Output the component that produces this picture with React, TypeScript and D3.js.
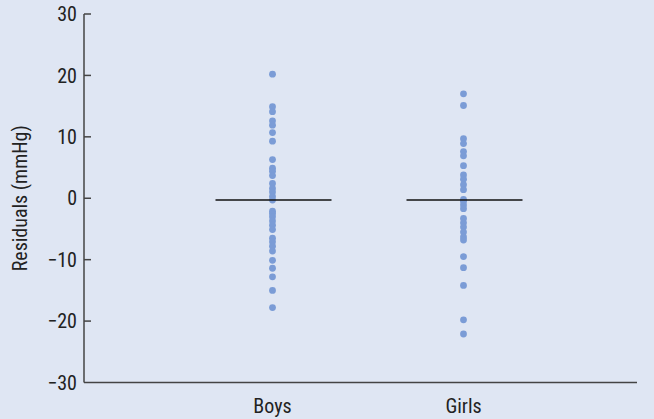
import React from "react";
import * as d3 from "d3";

const categories = ["Boys", "Girls"];
const boys = [20.2, 14.9, 14.1, 12.6, 11.9, 10.7, 9.3, 6.3, 4.9, 4.4, 3.7, 2.4, 1.6, 1.0, 0.3, -0.3, -2.1, -2.5, -3.0, -3.7, -4.4, -5.1, -6.5, -7.1, -7.8, -8.6, -10.1, -11.4, -12.8, -15.0, -17.8];
const girls = [17.0, 15.1, 9.7, 8.9, 7.6, 6.9, 5.3, 3.8, 3.1, 2.2, 1.4, -0.2, -0.5, -1.1, -1.7, -3.3, -4.0, -4.7, -5.5, -6.3, -6.8, -9.5, -11.3, -14.2, -19.8, -22.1];
const means = [-0.3, -0.3];
const yTicks = [-30, -20, -10, 0, 10, 20, 30];
const yLabel = "Residuals (mmHg)";

const W = 654;
const H = 419;
const FONT = "'Liberation Sans Narrow', 'Roboto Condensed', Arial, sans-serif";

export default function App() {
  const y = d3.scaleLinear().domain([-30, 30]).range([382.5, 14]);
  const x = d3.scalePoint<string>().domain(categories).range([272.5, 463.5]);
  const axisX = 84;
  const axisRight = 637;
  const series = [boys, girls];
  const fmt = (v: number) => (v < 0 ? "\u2212" + Math.abs(v) : String(v));

  return (
    <svg width={W} height={H} style={{ position: "absolute", left: 0, top: 0, display: "block" }}>
      <rect x={0} y={0} width={W} height={H} fill="#dfe6f3" />
      {/* y axis */}
      <line x1={axisX} x2={axisX} y1={y(30)} y2={y(-30)} stroke="#444" strokeWidth={1.5} />
      {yTicks.map((t) => (
        <g key={t}>
          {t !== -30 && (
            <line x1={axisX} x2={axisX + 7} y1={y(t)} y2={y(t)} stroke="#444" strokeWidth={1.5} />
          )}
          <text x={axisX - 7} y={y(t)} dy="0.36em" textAnchor="end" fontFamily={FONT} fontSize={20} fill="#222">
            {fmt(t)}
          </text>
        </g>
      ))}
      {/* x axis */}
      <line x1={axisX} x2={axisRight} y1={y(-30)} y2={y(-30)} stroke="#444" strokeWidth={1.5} />
      {categories.map((c) => (
        <text key={c} x={x(c)} y={413} textAnchor="middle" fontFamily={FONT} fontSize={20} fill="#222">
          {c}
        </text>
      ))}
      <text
        transform={`translate(27, ${y(0)}) rotate(-90)`}
        textAnchor="middle"
        fontFamily={FONT}
        fontSize={20}
        fill="#222"
      >
        {yLabel}
      </text>
      {/* dots */}
      {series.map((vals, i) =>
        vals.map((v, j) => (
          <circle key={`${i}-${j}`} cx={x(categories[i])} cy={y(v)} r={3.4} fill="#7b9cd6" />
        ))
      )}
      {/* mean lines */}
      {means.map((m, i) => (
        <line
          key={i}
          x1={(x(categories[i]) as number) - 57}
          x2={(x(categories[i]) as number) + 59}
          y1={y(m)}
          y2={y(m)}
          stroke="#111"
          strokeWidth={1.5}
        />
      ))}
    </svg>
  );
}
